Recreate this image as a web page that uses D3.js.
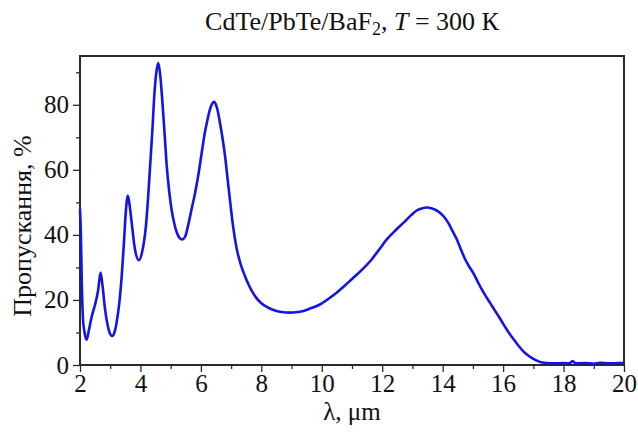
<!DOCTYPE html>
<html><head><meta charset="utf-8">
<script src="https://cdn.jsdelivr.net/npm/d3@7/dist/d3.min.js"></script>
<style>html,body{margin:0;padding:0;background:#fff;}svg{display:block;}
svg text{font-family:"Liberation Serif","Times New Roman",serif !important;fill:#111;}</style>
</head><body>
<svg id="c" width="638" height="437"></svg>
<script>
const wavelength = [2.00,2.03,2.06,2.10,2.15,2.22,2.30,2.39,2.50,2.60,2.68,2.75,2.83,2.92,3.00,3.07,3.14,3.21,3.30,3.38,3.45,3.50,3.55,3.58,3.62,3.67,3.71,3.82,3.95,4.05,4.12,4.17,4.25,4.32,4.40,4.45,4.52,4.59,4.65,4.72,4.80,4.87,4.95,5.03,5.12,5.20,5.30,5.38,5.48,5.58,5.69,5.80,5.91,6.02,6.13,6.22,6.30,6.37,6.43,6.50,6.56,6.63,6.72,6.80,6.88,6.96,7.06,7.18,7.30,7.46,7.60,7.79,8.00,8.23,8.50,8.73,8.95,9.20,9.39,9.65,9.94,10.2,10.49,10.75,11.04,11.3,11.6,11.9,12.15,12.45,12.7,12.95,13.14,13.3,13.47,13.65,13.80,13.91,14.05,14.19,14.32,14.47,14.6,14.74,14.88,15.02,15.15,15.29,15.43,15.57,15.71,15.85,15.98,16.12,16.26,16.4,16.53,16.67,16.81,16.95,17.08,17.22,17.44,17.7,18.0,18.2,18.3,18.4,18.7,19.0,19.2,19.5,19.8,20.0];
const transmission = [48,40,25,14,10,7.8,11,15,18.6,23,28.4,24,17,12,9.5,8.9,10,13,19,27.3,37,45,50.5,52,50.5,47,43.8,35.5,32.2,34.5,38,41.7,51,61.2,73,81.7,89.5,92.8,89.5,81.7,71,61.2,53.5,47.8,43.5,40.8,39,38.6,39.5,43,47.8,52.5,58.1,64.8,71.4,75.5,78.6,80.3,80.9,80,78,74.5,69.5,64.2,57.5,50.9,43,36,31.5,27.3,24.3,21.2,19,17.6,16.6,16.2,16.1,16.3,16.6,17.5,18.6,20.2,22.2,24.3,26.8,29,31.9,35.5,38.6,41.5,43.7,46,47.5,48.1,48.4,48.1,47.5,46.8,45.5,43.6,41.3,38.6,35.6,32.6,30.2,28.2,25.8,23.3,21.1,19.1,17,15,13,10.9,9,7.3,5.7,4.2,3.1,2.2,1.5,0.9,0.6,0.5,0.6,0.5,1.2,0.5,0.6,0.4,0.7,0.5,0.6,0.6];
const xTicks = [2,4,6,8,10,12,14,16,18,20];
const yTicks = [0,20,40,60,80];
const titleText = "CdTe/PbTe/BaF";
const xLabel = "λ, μm";
const yLabel = "Пропускання, %";

const svg = d3.select("#c");
const L = 80, R = 624, T = 56, B = 365;
const x = d3.scaleLinear().domain([2,20]).range([L,R]);
const y = d3.scaleLinear().domain([0,95]).range([B,T]);
const font = "'Liberation Serif','Times New Roman',serif";
const axisColor = "#2a2a2a";
const fs = 25;

// frame: dark band with white interior
svg.append("rect").attr("x",L-1).attr("y",T-1).attr("width",R-L+2).attr("height",B-T+2).attr("fill",axisColor);
svg.append("rect").attr("x",L+1).attr("y",T+1).attr("width",R-L-2).attr("height",B-T-2).attr("fill","#fff");

// curve
const line = d3.line().x((d,i)=>x(wavelength[i])).y((d,i)=>y(transmission[i])).curve(d3.curveMonotoneX);
svg.append("path").datum(transmission).attr("d",line).attr("fill","none")
  .attr("stroke","#1414e6").attr("stroke-width",2.6).attr("stroke-linejoin","round");

// ticks
const gx = svg.append("g").attr("transform",`translate(0,${B})`);
gx.call(d3.axisBottom(x).tickValues(d3.range(3,20,2)).tickSize(4).tickFormat(""));
gx.append("g").call(d3.axisBottom(x).tickValues(xTicks).tickSize(7).tickPadding(2).tickFormat(d3.format("d")));
const gy = svg.append("g").attr("transform",`translate(${L},0)`);
gy.call(d3.axisLeft(y).tickValues([10,30,50,70,90]).tickSize(4).tickFormat(""));
gy.append("g").call(d3.axisLeft(y).tickValues(yTicks).tickSize(7).tickPadding(4).tickFormat(d3.format("d")));
svg.selectAll(".domain").remove();
svg.selectAll(".tick line").attr("stroke",axisColor).attr("stroke-width",1.3);
svg.selectAll("g").attr("font-family",null).attr("font-size",null);
svg.selectAll(".tick text").style("font-family",font).style("font-size",fs+"px").attr("fill","#111");

// title
const t = svg.append("text").attr("x",(L+R)/2).attr("y",30).attr("text-anchor","middle")
  .style("font-family",font).style("font-size","26px").attr("fill","#111");
t.append("tspan").text(titleText);
t.append("tspan").text("2").style("font-size","18px").attr("dy",5);
t.append("tspan").text(", ").attr("dy",-5);
t.append("tspan").text("T").style("font-style","italic");
t.append("tspan").text(" = 300 К");

svg.append("text").attr("x",(L+R)/2).attr("y",420).attr("text-anchor","middle")
  .style("font-family",font).style("font-size",fs+"px").attr("fill","#111").text(xLabel);
svg.append("text").attr("transform","translate(31,226) rotate(-90)").attr("text-anchor","middle")
  .style("font-family",font).style("font-size","26px").attr("fill","#111").text(yLabel);
</script>
</body></html>
